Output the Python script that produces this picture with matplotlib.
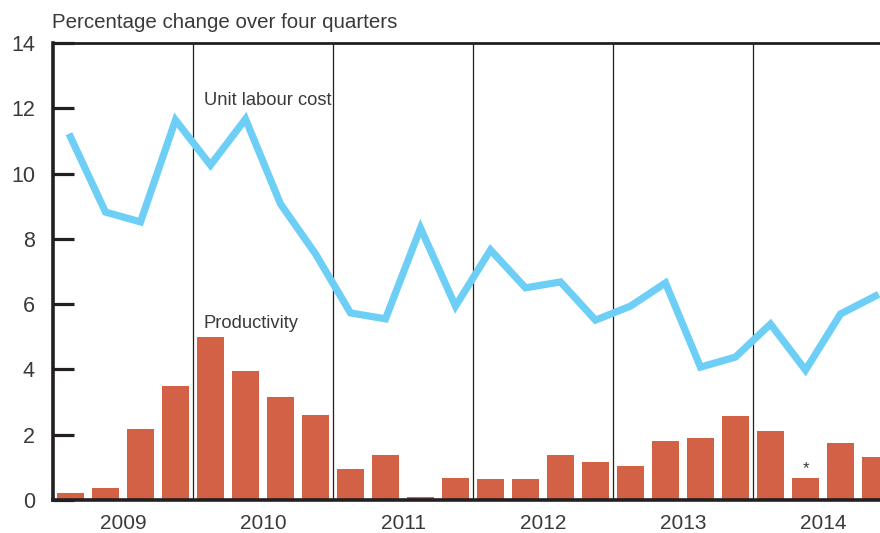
import matplotlib.pyplot as plt
import numpy as np

plt.rcParams["font.family"] = ["Liberation Sans", "DejaVu Sans"]

# Quarterly data, 2009 Q1 .. 2014 Q4
years = ["2009", "2010", "2011", "2012", "2013", "2014"]
unit_labour_cost = [11.12, 8.82, 8.52, 11.64,
                    10.26, 11.67, 9.07, 7.54,
                    5.73, 5.55, 8.33, 5.94,
                    7.66, 6.50, 6.68, 5.51,
                    5.94, 6.65, 4.07, 4.38,
                    5.39, 3.98, 5.70, 6.25]
productivity = [0.20, 0.37, 2.17, 3.49,
                4.99, 3.95, 3.16, 2.60,
                0.95, 1.38, 0.08, 0.67,
                0.64, 0.64, 1.38, 1.16,
                1.04, 1.81, 1.90, 2.57,
                2.11, 0.67, 1.75, 1.32]
y_ticks = [0, 2, 4, 6, 8, 10, 12, 14]

DARK = "#231f20"
TEXT = "#3a3a3a"
BLUE = "#6dcff6"
RED = "#d26146"

fig = plt.figure(figsize=(8.8, 5.33), dpi=100)
ax = fig.add_axes([53 / 880, 33 / 533, 840 / 880, 457 / 533])

x = np.arange(len(productivity))
ax.bar(x, productivity, width=0.75, color=RED, zorder=2)
ax.plot(x, unit_labour_cost, color=BLUE, lw=5.2, solid_joinstyle="miter", zorder=3)

# year separators
for b in range(4, len(x), 4):
    ax.axvline(b - 0.5, color=DARK, lw=0.9, zorder=1)

ax.set_xlim(-0.5, len(x) - 0.5)
ax.set_ylim(0, 14)

ax.set_yticks(y_ticks)
ax.set_yticklabels([str(v) for v in y_ticks], fontsize=15.5, color=TEXT)
ax.tick_params(axis="y", direction="in", length=15, width=2.3, color=DARK, pad=13)

ax.set_xticks([i * 4 + 1.5 for i in range(len(years))])
ax.set_xticklabels(years, fontsize=15, color=TEXT)
ax.tick_params(axis="x", length=0, pad=10)

for s in ("left", "bottom"):
    ax.spines[s].set_linewidth(2.6)
    ax.spines[s].set_color(DARK)
ax.spines["top"].set_linewidth(2.0)
ax.spines["top"].set_color(DARK)
ax.spines["right"].set_visible(False)

ax.text(3.8, 12.25, "Unit labour cost", fontsize=13.2, color=TEXT, ha="left", va="center")
ax.text(3.8, 5.4, "Productivity", fontsize=13.2, color=TEXT, ha="left", va="center")
ax.text(21, 0.97, "*", fontsize=12, color=TEXT, ha="center", va="center")

fig.text(52 / 880, 1 - 22 / 533, "Percentage change over four quarters",
         fontsize=14.8, color=TEXT, ha="left", va="center")

fig.savefig("out.png", dpi=100)
